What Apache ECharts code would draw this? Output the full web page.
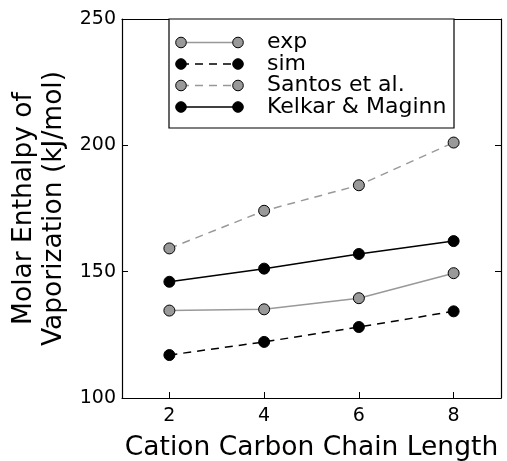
<!DOCTYPE html>
<html><head><meta charset="utf-8">
<script src="https://cdn.jsdelivr.net/npm/echarts@6/dist/echarts.min.js"></script>
<style>html,body{margin:0;padding:0;background:#fff}#c{width:507px;height:461px}</style>
</head><body><div id="c"></div>
<script>
var chainLength = [2, 4, 6, 8];
var expVals = [134.6, 135.1, 139.5, 149.4];
var simVals = [117.0, 122.2, 128.1, 134.3];
var santosVals = [159.2, 174.1, 184.2, 201.1];
var kelkarVals = [146.0, 151.2, 157.0, 162.1];
var xTicks = [2, 4, 6, 8];
var yTicks = [100, 150, 200, 250];
var seriesNames = ['exp', 'sim', 'Santos et al.', 'Kelkar & Maginn'];

var FONT = 'DejaVu Sans';
var GRAY = '#999999';
var styles = [
  {line: GRAY, fill: GRAY, type: 'solid'},
  {line: '#000', fill: '#000', type: [8, 6]},
  {line: GRAY, fill: GRAY, type: [8, 6]},
  {line: '#000', fill: '#000', type: 'solid'}
];
var allVals = [expVals, simVals, santosVals, kelkarVals];

function mkSeries(i) {
  return {
    name: seriesNames[i], type: 'line',
    data: chainLength.map(function (x, k) { return [x, allVals[i][k]]; }),
    symbol: 'circle', symbolSize: 11,
    lineStyle: {color: styles[i].line, width: 1.5, type: styles[i].type},
    itemStyle: {color: styles[i].fill, borderColor: '#000', borderWidth: 1},
    emphasis: {disabled: true}, animation: false, z: 3
  };
}

var chart = echarts.init(document.getElementById('c'));
var axisLine = {show: true, onZero: false, lineStyle: {color: '#000', width: 1.2}};
var tickStyle = {lineStyle: {color: '#000', width: 1}};

// legend graphic
var lgX0 = 169, lgY0 = 19, lgW = 285, lgH = 109;
var rowY = [42.5, 64, 85.5, 107];
var g = [{type: 'rect', shape: {x: lgX0, y: lgY0, width: lgW, height: lgH},
  style: {fill: '#fff', stroke: '#000', lineWidth: 1.2}, z: 10}];
seriesNames.forEach(function (n, i) {
  var y = rowY[i];
  g.push({type: 'line', shape: {x1: 181, y1: y, x2: 238, y2: y},
    style: {stroke: styles[i].line, lineWidth: 1.5, lineDash: styles[i].type === 'solid' ? null : styles[i].type}, z: 11});
  [181, 238].forEach(function (cx) {
    g.push({type: 'circle', shape: {cx: cx, cy: y, r: 5.3},
      style: {fill: styles[i].fill, stroke: '#000', lineWidth: 1}, z: 12});
  });
  g.push({type: 'text', x: 267, y: y, style: {text: n, font: '22px "DejaVu Sans"', fill: '#000', verticalAlign: 'middle', textAlign: 'left'}, z: 12});
});

chart.setOption({
  animation: false,
  backgroundColor: '#fff',
  grid: {left: 122, right: 6, top: 19, bottom: 63, outerBoundsMode: 'none', containLabel: false},
  xAxis: [{
    type: 'value', min: 1, max: 9, position: 'bottom',
    name: 'Cation Carbon Chain Length', nameLocation: 'middle', nameGap: 37,
    nameTextStyle: {fontFamily: FONT, fontSize: 26.5, color: '#000'},
    axisLine: axisLine,
    axisTick: {show: true, inside: true, length: 6, customValues: xTicks, lineStyle: tickStyle.lineStyle},
    axisLabel: {show: true, customValues: xTicks, fontFamily: FONT, fontSize: 19, color: '#000', margin: 9},
    splitLine: {show: false}
  }, {
    type: 'value', min: 1, max: 9, position: 'top',
    axisLine: axisLine,
    axisTick: {show: true, inside: true, length: 6, customValues: xTicks, lineStyle: tickStyle.lineStyle},
    axisLabel: {show: false}, splitLine: {show: false}
  }],
  yAxis: [{
    type: 'value', min: 100, max: 250, interval: 50, position: 'left',
    name: 'Molar Enthalpy of\nVaporization (kJ/mol)', nameLocation: 'middle', nameGap: 51,
    nameTextStyle: {fontFamily: FONT, fontSize: 26.5, color: '#000', lineHeight: 30},
    axisLine: axisLine,
    axisTick: {show: true, inside: true, length: 6, customValues: yTicks, lineStyle: tickStyle.lineStyle},
    axisLabel: {show: true, customValues: yTicks, fontFamily: FONT, fontSize: 19, color: '#000', margin: 6},
    splitLine: {show: false}
  }, {
    type: 'value', min: 100, max: 250, interval: 50, position: 'right',
    axisLine: axisLine,
    axisTick: {show: true, inside: true, length: 6, customValues: yTicks, lineStyle: tickStyle.lineStyle},
    axisLabel: {show: false}, splitLine: {show: false}
  }],
  graphic: g,
  series: [mkSeries(0), mkSeries(1), mkSeries(2), mkSeries(3)]
});
</script></body></html>
